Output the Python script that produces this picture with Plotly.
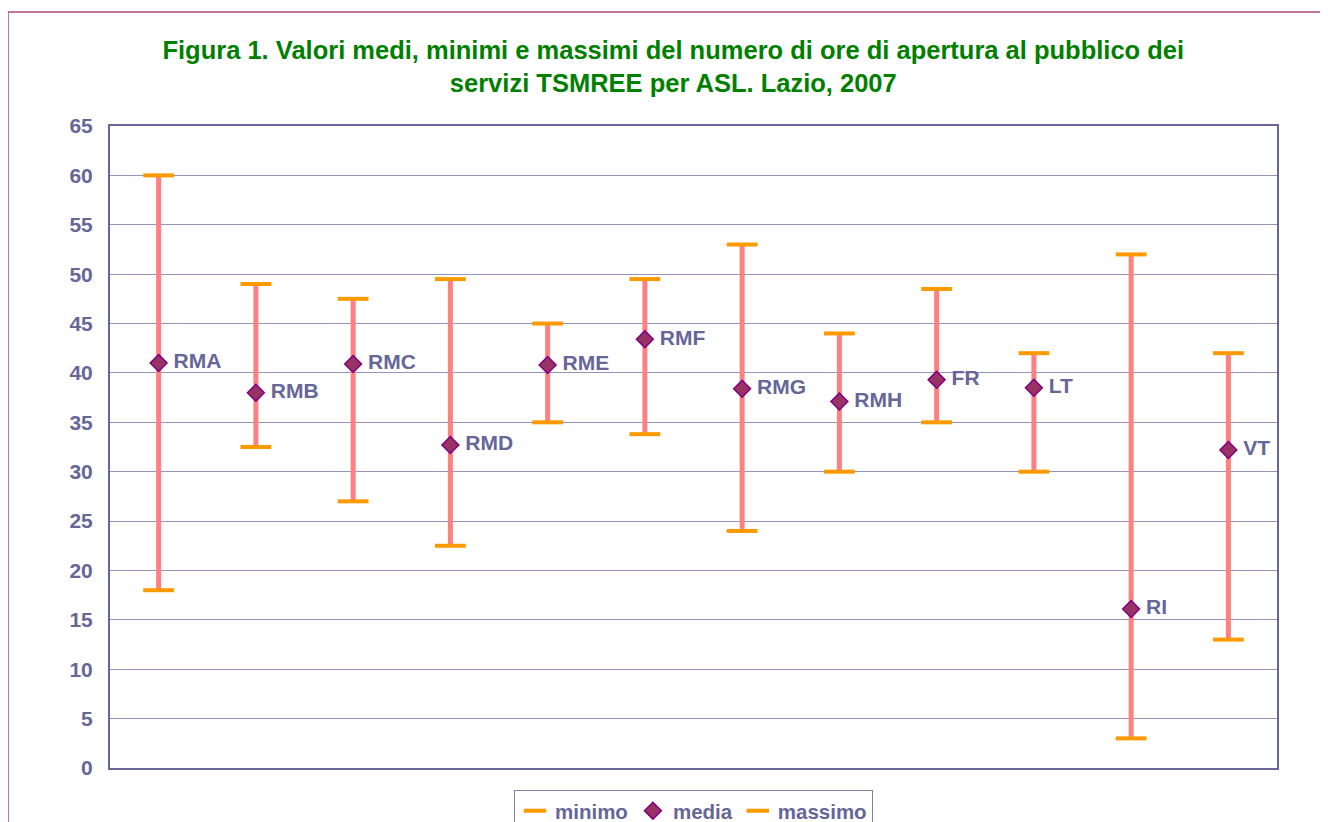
import plotly.graph_objects as go

categories = ["RMA", "RMB", "RMC", "RMD", "RME", "RMF", "RMG", "RMH", "FR", "LT", "RI", "VT"]
minimo = [18, 32.5, 27, 22.5, 35, 33.8, 24, 30, 35, 30, 3, 13]
media = [41, 38, 40.9, 32.7, 40.8, 43.4, 38.4, 37.1, 39.3, 38.5, 16.1, 32.2]
massimo = [60, 49, 47.5, 49.5, 45, 49.5, 53, 44, 48.5, 42, 52, 42]

FONT = "Liberation Sans, Arial, sans-serif"
TXT = "#666699"

# vertical range lines
lx, ly = [], []
for c, lo, hi in zip(categories, minimo, massimo):
    lx += [c, c, None]
    ly += [lo, hi, None]

fig = go.Figure()
fig.add_trace(go.Scatter(x=lx, y=ly, mode="lines", line=dict(color="#FF8080", width=5),
                         showlegend=False, hoverinfo="skip"))
fig.add_trace(go.Scatter(x=categories, y=minimo, mode="markers", name="<b>minimo</b>",
                         marker=dict(symbol="line-ew", size=22, line=dict(color="#FF9900", width=4))))
fig.add_trace(go.Scatter(x=categories, y=media, mode="markers+text", name="<b>media</b>",
                         text=categories, texttemplate="<b>\u00a0%{text}</b>",
                         textposition="middle right",
                         textfont=dict(family=FONT, size=21, color=TXT),
                         marker=dict(symbol="diamond", size=13, color="#993366",
                                     line=dict(color="#800080", width=1.5))))
fig.add_trace(go.Scatter(x=categories, y=massimo, mode="markers", name="<b>massimo</b>",
                         marker=dict(symbol="line-ew", size=22, line=dict(color="#FF9900", width=4))))

# page body has an 8px margin, so the figure is offset by 8px; figure is taller than
# the window so the legend (cut off at the bottom in the original) does not push margins
H = 850
fig.update_layout(
    width=1320, height=H,
    margin=dict(l=102, r=51, t=118, b=H + 8 - 768),
    paper_bgcolor="white", plot_bgcolor="white",
    font=dict(family=FONT, size=21, color=TXT),
    title=dict(text="<b>Figura 1. Valori medi, minimi e massimi del numero di ore di apertura al pubblico dei<br>servizi TSMREE per ASL. Lazio, 2007</b>",
               x=0.504, xanchor="center", y=0.94, yanchor="middle",
               font=dict(family=FONT, size=25.5, color="#008000")),
    legend=dict(orientation="h", x=0.5, xanchor="center", y=-0.034, yanchor="top",
                bordercolor="#8080a8", borderwidth=1, itemwidth=30,
                font=dict(family=FONT, size=20.5, color=TXT)),
    showlegend=True,
)
fig.update_xaxes(type="category", categoryorder="array", categoryarray=categories,
                 range=[-0.5, len(categories) - 0.5], autorange=False,
                 showticklabels=False, showgrid=False, zeroline=False,
                 showline=True, linecolor="#666699", linewidth=2, mirror=True, ticks="")
fig.update_yaxes(range=[0, 65], dtick=5, tick0=0, showgrid=True, gridcolor="#9494bc", gridwidth=1,
                 zeroline=False, showline=True, linecolor="#666699", linewidth=2, mirror=True,
                 ticks="", ticklabelstandoff=11, tickprefix="<b>", ticksuffix="</b>",
                 tickfont=dict(family=FONT, size=21, color=TXT))

# outer frame
fig.add_shape(type="rect", xref="paper", yref="paper",
              x0=(0 - 102) / 1167, x1=1.1, y0=-0.2, y1=(768 - 12) / 642,
              line=dict(color="#B0487A", width=1.5), layer="below")

fig.write_html("out.html")
